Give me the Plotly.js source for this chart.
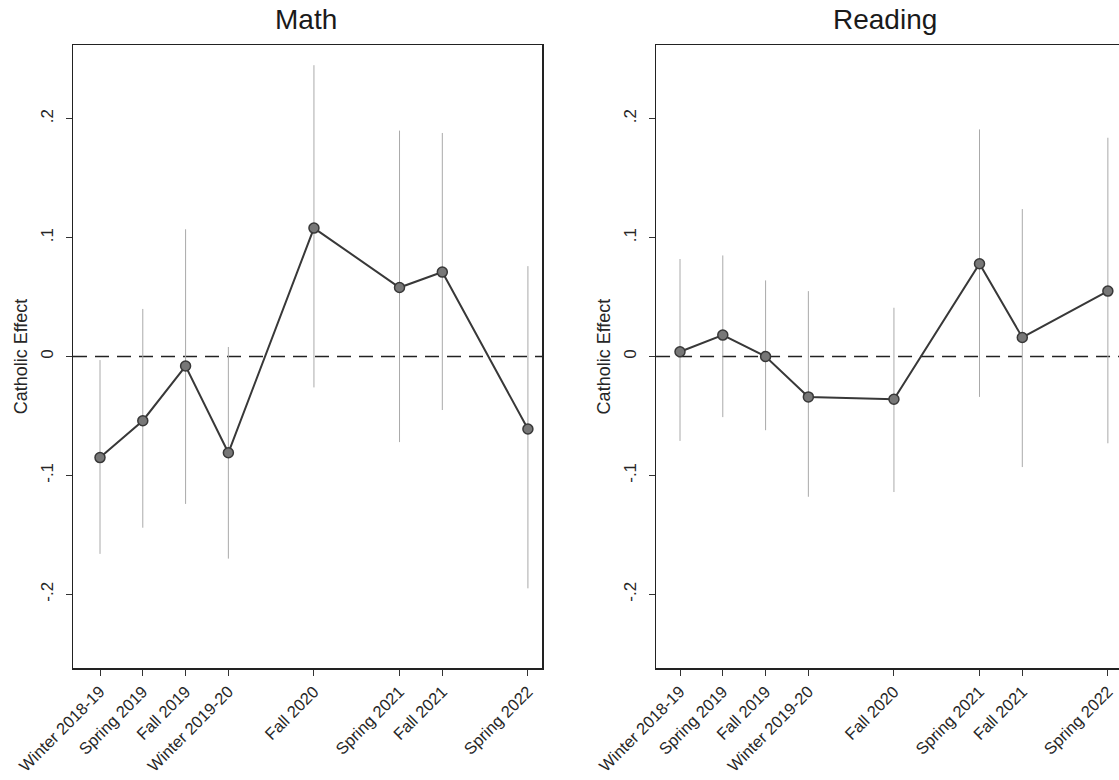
<!DOCTYPE html>
<html>
<head>
<meta charset="utf-8">
<script src="https://cdn.plot.ly/plotly-3.0.1.min.js"></script>
<style>html,body{margin:0;padding:0;background:#fff;}#chart{width:1119px;height:780px;}</style>
</head>
<body>
<div id="chart"></div>
<script>
// ---- data ----
var periods = ["Winter 2018-19", "Spring 2019", "Fall 2019", "Winter 2019-20", "Fall 2020", "Spring 2021", "Fall 2021", "Spring 2022"];
var periodPos = [1, 2, 3, 4, 6, 8, 9, 11];

var mathEffect = [-0.085, -0.054, -0.008, -0.081, 0.108, 0.058, 0.071, -0.061];
var mathUpper  = [-0.003, 0.040, 0.107, 0.008, 0.245, 0.190, 0.188, 0.076];
var mathLower  = [-0.166, -0.144, -0.124, -0.170, -0.026, -0.072, -0.045, -0.195];

var readEffect = [0.004, 0.018, 0.000, -0.034, -0.036, 0.078, 0.016, 0.055];
var readUpper  = [0.082, 0.085, 0.064, 0.055, 0.041, 0.191, 0.124, 0.184];
var readLower  = [-0.071, -0.051, -0.062, -0.118, -0.114, -0.034, -0.093, -0.073];

var yTickVals = [-0.2, -0.1, 0, 0.1, 0.2];
var yTickText = ["-.2", "-.1", "0", ".1", ".2"];
var panelTitles = ["Math", "Reading"];
var yTitle = "Catholic Effect";

// ---- build ----
function diff(a, b) { return a.map(function (v, i) { return v - b[i]; }); }

function ciTrace(eff, up, lo, xa, ya) {
  return {
    x: periodPos, y: eff, xaxis: xa, yaxis: ya, type: "scatter", mode: "markers",
    marker: { size: 1, color: "rgba(0,0,0,0)" }, hoverinfo: "skip", showlegend: false,
    error_y: { type: "data", symmetric: false, array: diff(up, eff), arrayminus: diff(eff, lo),
               width: 0, thickness: 1, color: "#aaaaaa" }
  };
}
function lineTrace(eff, xa, ya) {
  return {
    x: periodPos, y: eff, xaxis: xa, yaxis: ya, type: "scatter", mode: "lines+markers",
    line: { color: "#383838", width: 2 },
    marker: { size: 10, color: "#777777", line: { color: "#383838", width: 1.5 } },
    showlegend: false
  };
}

var data = [
  ciTrace(mathEffect, mathUpper, mathLower, "x", "y"),
  lineTrace(mathEffect, "x", "y"),
  ciTrace(readEffect, readUpper, readLower, "x2", "y2"),
  lineTrace(readEffect, "x2", "y2")
];

var FONT = "Liberation Sans, Arial, sans-serif";
var tickFont = { family: FONT, size: 16.5, color: "#262626" };

function xAxis(domain, range, mirror) {
  return {
    domain: domain, range: range, tickmode: "array", tickvals: periodPos, ticktext: periods,
    tickangle: -45, ticks: "outside", ticklen: 6, tickcolor: "#333", tickwidth: 1,
    showline: true, mirror: mirror, linecolor: "#222", linewidth: 1.5,
    showgrid: false, zeroline: false, tickfont: tickFont, automargin: false, fixedrange: true
  };
}
function yAxis(anchor, mirror) {
  return {
    anchor: anchor, range: [-0.262, 0.262], tickmode: "array", tickvals: yTickVals, ticktext: yTickText,
    tickangle: -90, ticks: "outside", ticklen: 6, tickcolor: "#333", tickwidth: 1,
    ticklabelstandoff: 6,
    showline: true, mirror: mirror, linecolor: "#222", linewidth: 1.5,
    showgrid: false, zeroline: false, automargin: false, fixedrange: true,
    tickfont: { family: FONT, size: 17, color: "#262626" },
    title: { text: yTitle, standoff: 5, font: { family: FONT, size: 18, color: "#262626" } }
  };
}

var layout = {
  width: 1119, height: 780,
  margin: { l: 73, r: 0, t: 45, b: 112 },
  paper_bgcolor: "#ffffff", plot_bgcolor: "#ffffff",
  xaxis: xAxis([0, 0.4484], [0.369, 11.33], true),
  yaxis: yAxis("x", true),
  xaxis2: xAxis([0.5574, 1], [0.44, 11.26], true),
  yaxis2: yAxis("x2", false),
  shapes: [
    { type: "line", xref: "x domain", yref: "y", x0: 0, x1: 1, y0: 0, y1: 0,
      line: { color: "#222", width: 1.5, dash: "14px,8px" }, layer: "below" },
    { type: "line", xref: "x2 domain", yref: "y2", x0: 0, x1: 1, y0: 0, y1: 0,
      line: { color: "#222", width: 1.5, dash: "14px,8px" }, layer: "below" }
  ],
  annotations: [
    { text: panelTitles[0], xref: "x domain", yref: "paper", x: 0.5, y: 1, yanchor: "bottom", yshift: 8, xshift: -2,
      showarrow: false, font: { family: FONT, size: 28, color: "#1a1a1a" } },
    { text: panelTitles[1], xref: "x2 domain", yref: "paper", x: 0.5, y: 1, yanchor: "bottom", yshift: 8, xshift: -3,
      showarrow: false, font: { family: FONT, size: 28, color: "#1a1a1a" } }
  ]
};

Plotly.newPlot("chart", data, layout, { displayModeBar: false, staticPlot: true });
</script>
</body>
</html>
